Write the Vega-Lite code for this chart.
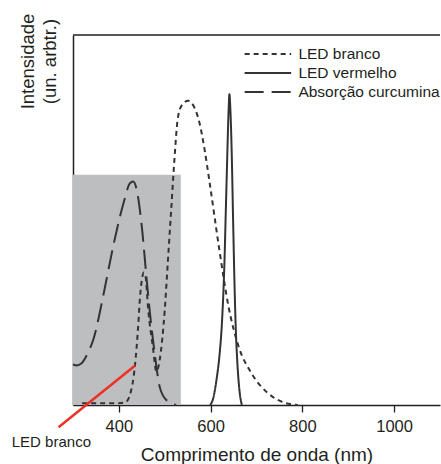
{
  "$schema": "https://vega.github.io/schema/vega-lite/v6.json",
  "width": 367,
  "height": 370,
  "autosize": {"type": "none"},
  "padding": {"left": 73, "top": 35, "right": 1, "bottom": 59},
  "background": "white",
  "config": {"view": {"stroke": null}, "font": "Liberation Sans"},
  "datasets": {
    "box": [{"nm": 300, "nm2": 535, "I": 0, "I2": 0.622}],
    "spectra": [
      {"serie": "LED branco", "nm": 320, "I": 0.005},
      {"serie": "LED branco", "nm": 360, "I": 0.005},
      {"serie": "LED branco", "nm": 400, "I": 0.005},
      {"serie": "LED branco", "nm": 414, "I": 0.007},
      {"serie": "LED branco", "nm": 424, "I": 0.027},
      {"serie": "LED branco", "nm": 435, "I": 0.106},
      {"serie": "LED branco", "nm": 442, "I": 0.212},
      {"serie": "LED branco", "nm": 446, "I": 0.29},
      {"serie": "LED branco", "nm": 451, "I": 0.345},
      {"serie": "LED branco", "nm": 454, "I": 0.358},
      {"serie": "LED branco", "nm": 458, "I": 0.348},
      {"serie": "LED branco", "nm": 464, "I": 0.257},
      {"serie": "LED branco", "nm": 474, "I": 0.158},
      {"serie": "LED branco", "nm": 482, "I": 0.09},
      {"serie": "LED branco", "nm": 489, "I": 0.122},
      {"serie": "LED branco", "nm": 500, "I": 0.257},
      {"serie": "LED branco", "nm": 507, "I": 0.392},
      {"serie": "LED branco", "nm": 514, "I": 0.527},
      {"serie": "LED branco", "nm": 521, "I": 0.662},
      {"serie": "LED branco", "nm": 528, "I": 0.77},
      {"serie": "LED branco", "nm": 537, "I": 0.81},
      {"serie": "LED branco", "nm": 551, "I": 0.822},
      {"serie": "LED branco", "nm": 563, "I": 0.808},
      {"serie": "LED branco", "nm": 576, "I": 0.761},
      {"serie": "LED branco", "nm": 587, "I": 0.689},
      {"serie": "LED branco", "nm": 597, "I": 0.608},
      {"serie": "LED branco", "nm": 618, "I": 0.428},
      {"serie": "LED branco", "nm": 639, "I": 0.266},
      {"serie": "LED branco", "nm": 661, "I": 0.158},
      {"serie": "LED branco", "nm": 689, "I": 0.086},
      {"serie": "LED branco", "nm": 725, "I": 0.032},
      {"serie": "LED branco", "nm": 761, "I": 0.006},
      {"serie": "LED branco", "nm": 790, "I": 0.0},
      {"serie": "LED vermelho", "nm": 599, "I": 0.0},
      {"serie": "LED vermelho", "nm": 606, "I": 0.02},
      {"serie": "LED vermelho", "nm": 613, "I": 0.07},
      {"serie": "LED vermelho", "nm": 619, "I": 0.13},
      {"serie": "LED vermelho", "nm": 625, "I": 0.23},
      {"serie": "LED vermelho", "nm": 630, "I": 0.38},
      {"serie": "LED vermelho", "nm": 633, "I": 0.52},
      {"serie": "LED vermelho", "nm": 636, "I": 0.66},
      {"serie": "LED vermelho", "nm": 639, "I": 0.79},
      {"serie": "LED vermelho", "nm": 641, "I": 0.84},
      {"serie": "LED vermelho", "nm": 643, "I": 0.8},
      {"serie": "LED vermelho", "nm": 646, "I": 0.68},
      {"serie": "LED vermelho", "nm": 649, "I": 0.5},
      {"serie": "LED vermelho", "nm": 652, "I": 0.33},
      {"serie": "LED vermelho", "nm": 655, "I": 0.2},
      {"serie": "LED vermelho", "nm": 658, "I": 0.12},
      {"serie": "LED vermelho", "nm": 662, "I": 0.05},
      {"serie": "LED vermelho", "nm": 668, "I": 0.0},
      {"serie": "Absorção curcumina", "nm": 300, "I": 0.11},
      {"serie": "Absorção curcumina", "nm": 308, "I": 0.107},
      {"serie": "Absorção curcumina", "nm": 318, "I": 0.112},
      {"serie": "Absorção curcumina", "nm": 328, "I": 0.13},
      {"serie": "Absorção curcumina", "nm": 346, "I": 0.184},
      {"serie": "Absorção curcumina", "nm": 367, "I": 0.302},
      {"serie": "Absorção curcumina", "nm": 389, "I": 0.437},
      {"serie": "Absorção curcumina", "nm": 410, "I": 0.545},
      {"serie": "Absorção curcumina", "nm": 424, "I": 0.599},
      {"serie": "Absorção curcumina", "nm": 431, "I": 0.604},
      {"serie": "Absorção curcumina", "nm": 439, "I": 0.581},
      {"serie": "Absorção curcumina", "nm": 450, "I": 0.482},
      {"serie": "Absorção curcumina", "nm": 460, "I": 0.347},
      {"serie": "Absorção curcumina", "nm": 467, "I": 0.257},
      {"serie": "Absorção curcumina", "nm": 478, "I": 0.14},
      {"serie": "Absorção curcumina", "nm": 489, "I": 0.049},
      {"serie": "Absorção curcumina", "nm": 503, "I": 0.014},
      {"serie": "Absorção curcumina", "nm": 525, "I": 0.0}
    ],
    "pointer": [
      {"nm": 268.5, "I": -0.06},
      {"nm": 435.5, "I": 0.107}
    ],
    "label": [{"nm": 166.5, "I": -0.114, "text": "LED branco"}],
    "frame": [{"I": 1}]
  },
  "layer": [
    {
      "data": {"name": "box"},
      "mark": {"type": "rect", "color": "#bcbec0"},
      "encoding": {
        "x": {
          "field": "nm", "type": "quantitative",
          "scale": {"domain": [300, 1090]},
          "axis": {
            "values": [400, 600, 800, 1000],
            "format": "d",
            "title": "Comprimento de onda (nm)",
            "titleFontSize": 19, "titleFontWeight": "normal", "titleColor": "#231f20",
            "titleBaseline": "alphabetic", "titleY": 55,
            "labelFontSize": 16.5, "labelColor": "#231f20", "labelPadding": 6,
            "labelFlush": false, "labelOverlap": false,
            "tickSize": 7, "tickColor": "#231f20", "tickWidth": 1.3,
            "domainColor": "#231f20", "domainWidth": 1.5, "grid": false
          }
        },
        "x2": {"field": "nm2"},
        "y": {
          "field": "I", "type": "quantitative",
          "scale": {"domain": [0, 1]},
          "axis": {
            "title": ["Intensidade", "(un. arbtr.)"],
            "titleFontSize": 18.5, "titleFontWeight": "normal", "titleColor": "#231f20",
            "titleAngle": 270, "titleX": -39.5, "titleY": 26,
            "titleAlign": "center", "titleBaseline": "alphabetic", "titleLineHeight": 21.5,
            "labels": false, "ticks": false, "grid": false,
            "domainColor": "#231f20", "domainWidth": 1.5
          }
        },
        "y2": {"field": "I2"}
      }
    },
    {
      "data": {"name": "spectra"},
      "mark": {"type": "line", "interpolate": "monotone", "stroke": "#333333", "strokeWidth": 2},
      "encoding": {
        "x": {"field": "nm", "type": "quantitative"},
        "y": {"field": "I", "type": "quantitative"},
        "strokeDash": {
          "field": "serie", "type": "nominal",
          "scale": {"domain": ["LED branco", "LED vermelho", "Absorção curcumina"], "range": [[5, 4], [1, 0], [19, 8]]},
          "legend": {
            "title": null, "orient": "none", "legendX": 184.4, "legendY": 8.5,
            "symbolType": "M-2.5,0H2.5", "symbolSize": 346, "symbolStrokeWidth": 2.2,
            "symbolStrokeColor": "#333333", "symbolFillColor": "transparent",
            "labelFontSize": 15.5, "labelColor": "#231f20", "labelOffset": 20,
            "rowPadding": 0, "labelLimit": 300
          }
        }
      }
    },
    {
      "data": {"name": "pointer"},
      "mark": {"type": "line", "stroke": "#ee3124", "strokeWidth": 2.5},
      "encoding": {
        "x": {"field": "nm", "type": "quantitative"},
        "y": {"field": "I", "type": "quantitative"}
      }
    },
    {
      "data": {"name": "label"},
      "mark": {"type": "text", "align": "left", "baseline": "alphabetic", "fontSize": 15, "color": "#231f20"},
      "encoding": {
        "x": {"field": "nm", "type": "quantitative"},
        "y": {"field": "I", "type": "quantitative"},
        "text": {"field": "text"}
      }
    },
    {
      "data": {"name": "frame"},
      "mark": {"type": "rule", "color": "#231f20", "strokeWidth": 1.5},
      "encoding": {
        "y": {"field": "I", "type": "quantitative"}
      }
    }
  ]
}
